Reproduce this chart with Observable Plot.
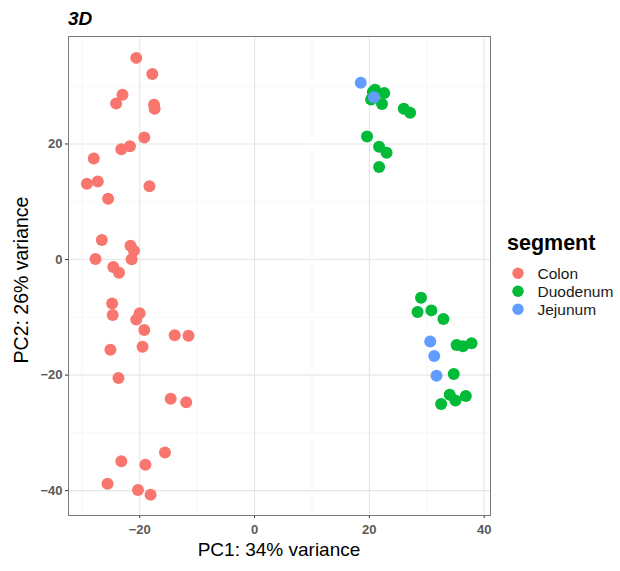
<!DOCTYPE html>
<html><head><meta charset="utf-8">
<script src="https://cdn.jsdelivr.net/npm/d3@7"></script>
<script src="https://cdn.jsdelivr.net/npm/@observablehq/plot@0.6"></script>
<style>
body{margin:0;background:#fff;font-family:"Liberation Sans",Arial,sans-serif;}
</style></head>
<body><div id="wrap"></div>
<script>
const segments = ["Colon","Duodenum","Jejunum"];
const segColors = ["#F8766D","#00BA38","#619CFF"];
const colonPC1 = [-20.6,-17.8,-23.0,-24.1,-17.5,-17.4,-19.2,-21.7,-23.2,-28.0,-29.2,-27.3,-18.3,-25.5,-26.6,-21.6,-21.0,-27.7,-21.4,-24.6,-23.6,-24.8,-24.7,-20.0,-20.6,-19.2,-13.9,-11.5,-25.1,-19.5,-23.7,-14.6,-11.9,-15.6,-23.2,-19.0,-25.6,-20.3,-18.1];
const colonPC2 = [34.9,32.1,28.5,27.0,26.8,26.1,21.1,19.6,19.1,17.5,13.1,13.5,12.7,10.5,3.4,2.4,1.5,0.1,0.05,-1.3,-2.3,-7.6,-9.6,-9.3,-10.4,-12.2,-13.1,-13.2,-15.6,-15.1,-20.5,-24.1,-24.7,-33.4,-34.9,-35.5,-38.8,-39.9,-40.7];
const duoPC1 = [21.0,20.6,22.6,20.3,22.2,26.0,27.1,19.6,21.7,23.0,21.7,29.0,28.4,30.8,32.9,35.2,36.3,37.8,34.7,34.0,35.0,36.8,32.5];
const duoPC2 = [29.4,29.0,28.8,27.7,26.9,26.1,25.4,21.3,19.5,18.5,16.0,-6.6,-9.1,-8.8,-10.3,-14.8,-15.0,-14.5,-19.8,-23.4,-24.4,-23.6,-25.0];
const jejPC1 = [18.5,20.8,30.6,31.3,31.7];
const jejPC2 = [30.6,28.1,-14.2,-16.7,-20.1];
const xMajor = [-20,0,20,40], xMinor = [-30,-10,10,30];
const yMajor = [-40,-20,0,20], yMinor = [-30,-10,10,30];
const titleText = "3D", xTitle = "PC1: 34% variance", yTitle = "PC2: 26% variance", legendTitle = "segment";

const data = [];
colonPC1.forEach((v,i)=>data.push({pc1:v,pc2:colonPC2[i],seg:"Colon"}));
duoPC1.forEach((v,i)=>data.push({pc1:v,pc2:duoPC2[i],seg:"Duodenum"}));
jejPC1.forEach((v,i)=>data.push({pc1:v,pc2:jejPC2[i],seg:"Jejunum"}));

const chart = Plot.plot({
  width:620, height:571,
  marginTop:36, marginBottom:56, marginLeft:68, marginRight:130,
  style:{fontFamily:"Liberation Sans, Arial, sans-serif", background:"#fff"},
  x:{domain:[-32.4,41.1], label:null},
  y:{domain:[-44.3,38.6], label:null},
  color:{domain:segments, range:segColors},
  marks:[
    Plot.ruleX(xMinor,{stroke:"#f2f2f2",strokeWidth:0.6}),
    Plot.ruleY(yMinor,{stroke:"#f2f2f2",strokeWidth:0.6}),
    Plot.ruleX(xMajor,{stroke:"#e6e6e6",strokeWidth:1.1}),
    Plot.ruleY(yMajor,{stroke:"#e6e6e6",strokeWidth:1.1}),
    Plot.axisX({ticks:xMajor, tickSize:3, tickPadding:6, fontSize:13, fontWeight:"bold", color:"#5a5a5a", stroke:"#333", label:null}),
    Plot.axisY({ticks:yMajor, tickSize:3, tickPadding:3, fontSize:13, fontWeight:"bold", color:"#5a5a5a", stroke:"#333", label:null}),
    Plot.dot(data,{x:"pc1",y:"pc2",fill:"seg",r:6,stroke:null}),
    Plot.frame({stroke:"#7a7a7a",strokeWidth:1})
  ]
});
document.getElementById("wrap").append(chart);
const svg = d3.select(chart);
svg.append("text").attr("x",68).attr("y",25).attr("text-anchor","start").attr("font-size",19).attr("font-weight","bold")
  .attr("font-style","italic").attr("fill","#000").text(titleText);
svg.append("text").attr("x",279).attr("y",556).attr("text-anchor","middle")
  .attr("font-size",19).attr("fill","#000").text(xTitle);
svg.append("text").attr("transform","translate(28,280) rotate(-90)").attr("text-anchor","middle")
  .attr("font-size",19.5).attr("fill","#000").text(yTitle);
const lg = svg.append("g").attr("font-size",15.5).attr("fill","#1a1a1a").attr("text-anchor","start");
lg.append("text").attr("x",507).attr("y",250).attr("font-size",21.5).attr("font-weight","bold").attr("fill","#000").text(legendTitle);
segments.forEach((s,i)=>{
  const cy = 273.3 + i*18;
  lg.append("circle").attr("cx",518).attr("cy",cy).attr("r",5.7).attr("fill",segColors[i]);
  lg.append("text").attr("x",537.5).attr("y",cy+5.4).text(s);
});
</script></body></html>
